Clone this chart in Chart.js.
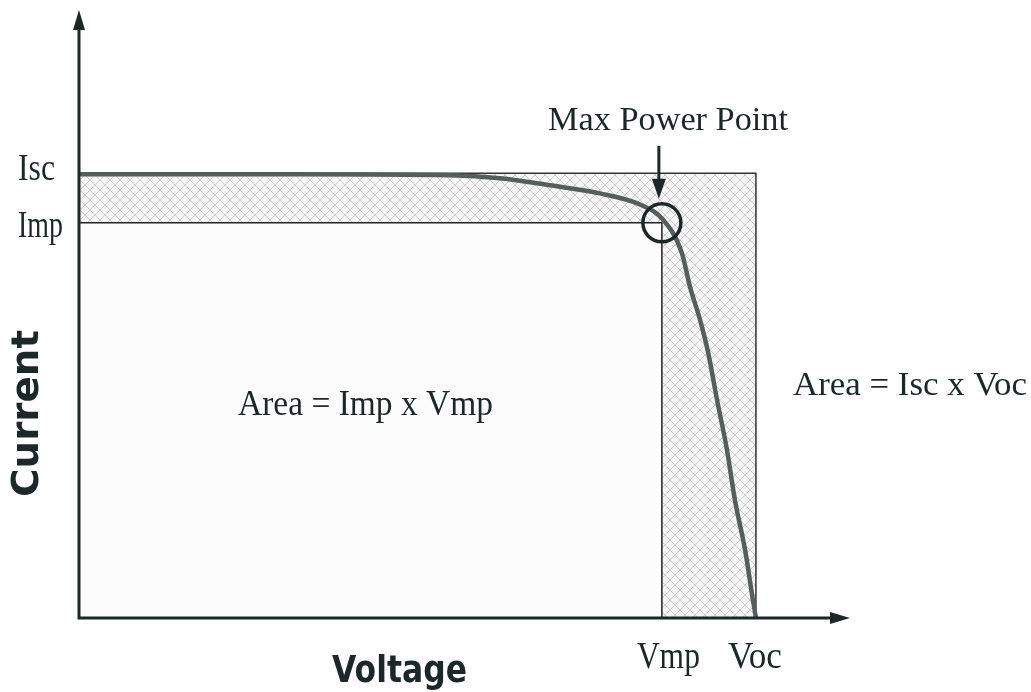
<!DOCTYPE html>
<html>
<head>
  <meta charset="utf-8">
  <title>Solar cell I-V curve</title>
  <script src="https://cdn.jsdelivr.net/npm/chart.js"></script>
  <style>
    body { margin: 0; background: #fff; }
    .chart-container { width: 1031px; height: 692px; position: relative; }
  </style>
</head>
<body>
  <div class="chart-container">
    <canvas id="ivChart"></canvas>
  </div>

  <script>
    // I-V curve (volts / amps, arbitrary scale)
    const voltage = [0, 7.17, 12.03, 13.65, 15.27, 16.89, 18.19, 18.94, 19.55, 19.81, 20.14, 20.40, 20.69, 21.01, 21.27, 21.60, 21.85, 21.95];
    const current = [4.38, 4.38, 4.37, 4.34, 4.27, 4.19, 4.08, 3.93, 3.60, 3.27, 2.94, 2.62, 2.15, 1.66, 1.16, 0.67, 0.18, 0];

    // key points
    const Isc = 4.39, Imp = 3.90, Vmp = 18.9, Voc = 21.95;
    const vMax = 25, iMax = 6;

    const ink = '#1c2828';

    // cross hatch used for the Isc x Voc area
    function hatch() {
      const c = document.createElement('canvas');
      c.width = 10; c.height = 10;
      const g = c.getContext('2d');
      g.fillStyle = '#f5f5f5';
      g.fillRect(0, 0, 10, 10);
      g.strokeStyle = '#c8c8c8';
      g.lineWidth = 0.9;
      g.beginPath();
      g.moveTo(0, 0); g.lineTo(10, 10);
      g.moveTo(10, 0); g.lineTo(0, 10);
      g.stroke();
      return g.createPattern(c, 'repeat');
    }

    const curve = voltage.map((v, i) => ({ x: v, y: current[i] }));
    const outerRect = [{ x: 0, y: Isc }, { x: Voc, y: Isc }, { x: Voc, y: 0 }];
    const innerRect = [{ x: 0, y: Imp }, { x: Vmp, y: Imp }, { x: Vmp, y: 0 }];

    // draw a text stretched/squeezed to a given width
    function txt(ctx, s, x, y, font, width, angle) {
      ctx.save();
      ctx.font = font;
      ctx.fillStyle = ink;
      ctx.textAlign = 'left';
      ctx.textBaseline = 'alphabetic';
      ctx.translate(x, y);
      if (angle) ctx.rotate(angle);
      const w = ctx.measureText(s).width;
      ctx.scale(width / w, 1);
      ctx.fillText(s, 0, 0);
      ctx.restore();
    }

    const decorations = {
      id: 'decorations',
      afterDraw(chart) {
        const ctx = chart.ctx;
        const a = chart.chartArea;
        const xs = chart.scales.x, ys = chart.scales.y;
        const serif = (n) => n + 'px "Liberation Serif", "Times New Roman", serif';
        const sans = 'bold 38px "DejaVu Sans", sans-serif';

        ctx.save();
        ctx.strokeStyle = ink;
        ctx.fillStyle = ink;
        ctx.lineWidth = 3;
        // axes
        ctx.beginPath();
        ctx.moveTo(a.left, a.top + 14);
        ctx.lineTo(a.left, a.bottom);
        ctx.lineTo(a.right - 14, a.bottom);
        ctx.stroke();
        // arrow heads
        ctx.beginPath();
        ctx.moveTo(a.left, a.top);
        ctx.lineTo(a.left - 6, a.top + 20);
        ctx.lineTo(a.left + 6, a.top + 20);
        ctx.closePath();
        ctx.fill();
        ctx.beginPath();
        ctx.moveTo(a.right, a.bottom);
        ctx.lineTo(a.right - 20, a.bottom - 6);
        ctx.lineTo(a.right - 20, a.bottom + 6);
        ctx.closePath();
        ctx.fill();

        // arrow pointing at the max power point
        const mx = xs.getPixelForValue(Vmp) - 3;
        const my = ys.getPixelForValue(Imp);
        ctx.beginPath();
        ctx.moveTo(mx, my - 77);
        ctx.lineTo(mx, my - 40);
        ctx.stroke();
        ctx.beginPath();
        ctx.moveTo(mx, my - 24);
        ctx.lineTo(mx - 7, my - 44);
        ctx.lineTo(mx + 7, my - 44);
        ctx.closePath();
        ctx.fill();
        ctx.restore();

        // labels
        txt(ctx, 'Isc', 18, ys.getPixelForValue(Isc) + 7, serif(37), 37);
        txt(ctx, 'Imp', 18, ys.getPixelForValue(Imp) + 14, serif(37), 45);
        txt(ctx, 'Vmp', xs.getPixelForValue(Vmp) - 25, a.bottom + 50, serif(37), 63);
        txt(ctx, 'Voc', xs.getPixelForValue(Voc) - 28, a.bottom + 50, serif(37), 54);
        txt(ctx, 'Max Power Point', 548, 130, serif(34), 240);
        txt(ctx, 'Area = Imp x Vmp', 238, 415, serif(35), 255);
        txt(ctx, 'Area = Isc x Voc', 793, 395, serif(34), 234);
        txt(ctx, 'Voltage', 332, 682, sans, 135);
        txt(ctx, 'Current', 38, 497, sans, 167, -Math.PI / 2);
      }
    };

    const ctx = document.getElementById('ivChart').getContext('2d');
    const ivChart = new Chart(ctx, {
      type: 'line',
      data: {
        datasets: [
          {
            label: 'Max Power Point',
            data: [{ x: Vmp, y: Imp }],
            showLine: false,
            pointRadius: 19,
            pointBorderWidth: 3.5,
            pointBorderColor: ink,
            pointBackgroundColor: 'rgba(0,0,0,0)'
          },
          {
            label: 'I-V curve',
            data: curve,
            borderColor: '#565d5d',
            borderWidth: 4.5,
            pointRadius: 0,
            cubicInterpolationMode: 'monotone',
            fill: false
          },
          {
            label: 'Imp x Vmp',
            data: innerRect,
            borderColor: '#222',
            borderWidth: 1.5,
            backgroundColor: '#fcfcfc',
            pointRadius: 0,
            tension: 0,
            fill: 'origin'
          },
          {
            label: 'Isc x Voc',
            data: outerRect,
            borderColor: '#333',
            borderWidth: 1.5,
            backgroundColor: hatch(),
            pointRadius: 0,
            tension: 0,
            fill: 'origin'
          }
        ]
      },
      options: {
        responsive: true,
        maintainAspectRatio: false,
        animation: false,
        events: [],
        layout: { autoPadding: false, padding: { left: 79, right: 181, top: 10, bottom: 74 } },
        plugins: {
          legend: { display: false },
          tooltip: { enabled: false },
          title: { display: false }
        },
        scales: {
          x: { type: 'linear', min: 0, max: vMax, display: false },
          y: { type: 'linear', min: 0, max: iMax, display: false }
        }
      }
      ,
      plugins: [decorations]
    });
  </script>
</body>
</html>
